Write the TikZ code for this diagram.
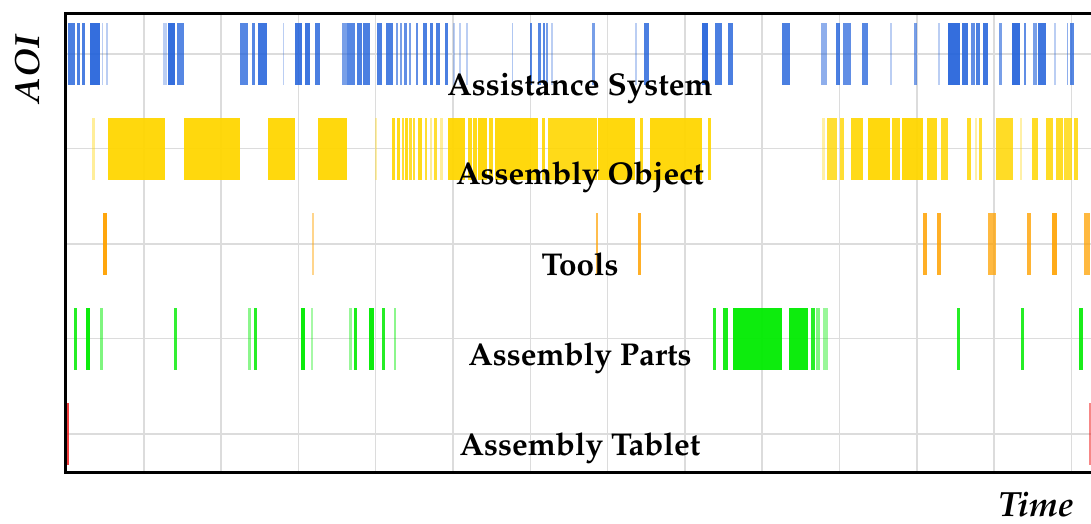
\documentclass[tikz,border=0pt]{standalone}
\usepackage[T1]{fontenc}
\usepackage{mathpazo}
\definecolor{aoiblue}{HTML}{1E5FDA}
\definecolor{aoigold}{HTML}{FFD600}
\definecolor{aoiorange}{HTML}{FFA200}
\definecolor{aoigreen}{HTML}{00EC00}
\definecolor{aoired}{HTML}{F01010}
\definecolor{gridgray}{HTML}{DCDCDC}
% one timeline row: colour, centre line, list of start/end/opacity
\newcommand{\aoirow}[3]{%
  \foreach \a/\b/\o in {#3}{\fill[#1, fill opacity=\o] (\a,#2-31) rectangle (\b,#2+31);}}
\tikzset{
  rowlabel/.style={font=\fontsize{31.5}{36}\selectfont\bfseries, anchor=base, inner sep=0pt},
  axislabel/.style={font=\fontsize{35}{40}\selectfont\bfseries\itshape, anchor=base, inner sep=0pt, text depth=0pt},
  gridline/.style={draw=gridgray, line width=1.5pt},
  frameline/.style={draw=black, line width=3pt},
}
\begin{document}
\begin{tikzpicture}[x=1pt,y=-1pt]
\useasboundingbox (0,0) rectangle (1091,523);
\fill[white] (0,0) rectangle (1091,523);

% grid
\foreach \k in {1,...,13}{\draw[gridline] ({66.5+77.3*\k},14) -- ({66.5+77.3*\k},471);}
\foreach \y in {54,148.5,244,338.5,434}{\draw[gridline] (66,\y) -- (1091,\y);}

% Assistance System
\aoirow{aoiblue}{54}{68/75/.8, 77/80/.8, 82/85/.8, 90/100/.9, 102/103/.3, 106/108/.3,
 163/167/.3, 168/175/.9, 177/184/.75, 240/248/.75, 252/255/.75, 258/267/.85, 283/284/.3,
 295/302/.85, 305/310/.85, 315/320/.8, 342/347/.6, 347/355/.75, 357/362/.8, 363/370/.8,
 377/382/.8, 386/393/.8, 396/398/.6, 400/402/.6, 404/407/.7, 409/411/.6, 416/418/.7,
 423/427/.8, 430/433/.8, 436/440/.8, 445/448/.8, 453/455/.3, 459/461/.3, 466/468/.3,
 512/513/.35, 530/532/.75, 538/541/.75, 543/545/.75, 546/548/.6, 551/553/.3, 592/595/.6,
 635/637/.3, 644/649/.8, 702/708/.9, 715/722/.8, 728/733/.8, 782/790/.8, 821/827/.5,
 836/840/.8, 843/851/.7, 862/868/.75, 890/892/.3, 914/917/.6, 938/940/.3, 948/960/.9,
 962/968/.85, 971/975/.7, 976/980/.8, 983/988/.85, 999/1002/.6, 1012/1020/.9,
 1024/1026/.7, 1033/1037/.6, 1038/1046/.85, 1054/1056/.3, 1067/1068/.5, 1070/1074/.75}

% Assembly Object
\aoirow{aoigold}{148.5}{92/95/.4, 108/165/.95, 184/240/.95, 268/295/.95, 318/347/.95,
 375/377/.35, 392/395/.9, 397/400/.9, 402/404/.8, 405/408/.9, 409/412/.8, 413/415/.8,
 418/422/.9, 425/427/.8, 430/432/.4, 434/437/.8, 440/443/.4, 448/465/.95, 468/472/.9,
 473/477/.9, 478/487/.95, 489/493/.9, 495/538/.95, 542/545/.9, 548/597/.9, 598/635/.95,
 640/643/.9, 650/702/.95, 708/711/.9, 822/825/.35, 827/837/.8, 840/844/.8, 851/863/.9,
 868/890/.95, 892/900/.9, 902/923/.95, 927/937/.9, 941/948/.85, 967/971/.85, 975/977/.35,
 979/982/.8, 996/1013/.85, 1020/1022/.35, 1032/1038/.85, 1046/1053/.85, 1056/1063/.85,
 1064/1072/.8, 1074/1078/.85}

% Tools
\aoirow{aoiorange}{244}{103/107/.95, 312/314/.45, 596/598/.7, 638/641/.85, 923/927/.85,
 937/941/.85, 988/996/.75, 1027/1031/.8, 1052/1057/.9, 1084/1090/.75}

% Assembly Parts
\aoirow{aoigreen}{338.5}{74/77/.85, 86/90/.95, 100/103/.5, 174/177/.8, 248/251/.45,
 254/257/.85, 301/305/.95, 311/313/.35, 349/352/.4, 354/357/.9, 369/374/.95, 382/385/.85,
 394/396/.45, 713/716/.85, 723/728/.9, 733/782/.95, 789/808/.95, 811/815/.85, 816/820/.5,
 823/828/.4, 957/960/.85, 1021/1024/.85, 1079/1083/.9}

% Assembly Tablet
\aoirow{aoired}{434}{66/69/.8, 1089/1091/.5}

% frame
\draw[frameline] (1091,13) -- (65,13) -- (65,472.5) -- (1091,472.5);

% labels
\node[rowlabel] (sys) at (580,95) {Assistance System};
\node[rowlabel] (obj) at (580,184) {Assembly Object};
\node[rowlabel] (tools) at (580,275) {Tools};
\node[rowlabel] (parts) at (580,365) {Assembly Parts};
\node[rowlabel] (tablet) at (580,455) {Assembly Tablet};
\node[axislabel, rotate=90] (aoi) at (39,69) {AOI};
\node[axislabel] (time) at (1036,516) {Time};
\end{tikzpicture}
\end{document}
